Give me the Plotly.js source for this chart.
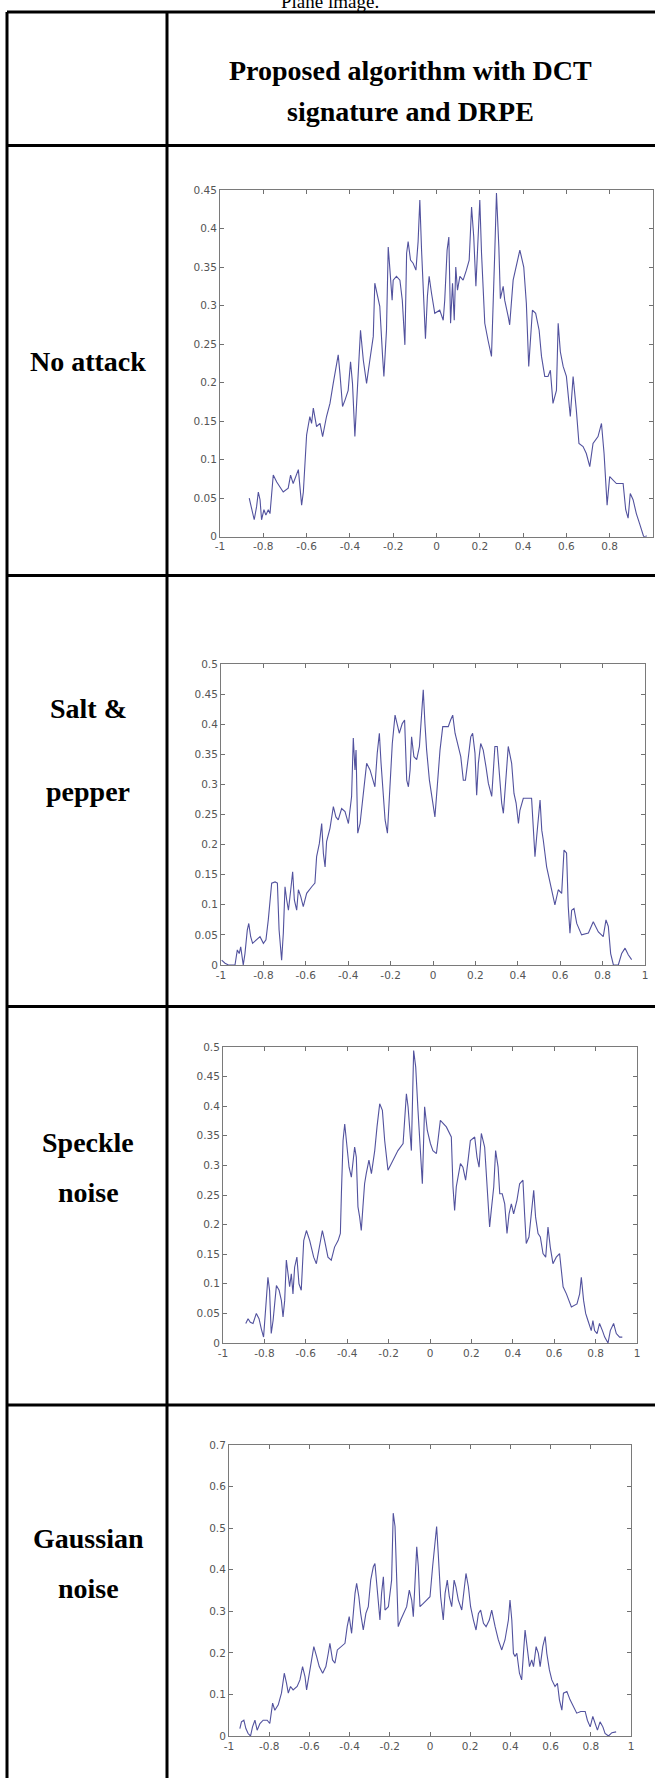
<!DOCTYPE html>
<html>
<head>
<meta charset="utf-8">
<script src="https://cdn.plot.ly/plotly-3.0.1.min.js"></script>
<style>
html,body{margin:0;padding:0;background:#fff;}
#chart{width:655px;height:1778px;}
</style>
</head>
<body>
<div id="chart"></div>
<script>
// ---------- DATA ----------
const rowLabels = [["No attack"], ["Salt &amp;", "pepper"], ["Speckle", "noise"], ["Gaussian", "noise"]];
const headerLines = ["Proposed algorithm with DCT", "signature and DRPE"];
const captionText = "Plane image.";

const xTickVals = [-1, -0.8, -0.6, -0.4, -0.2, 0, 0.2, 0.4, 0.6, 0.8, 1];
const xTickText = ["-1", "-0.8", "-0.6", "-0.4", "-0.2", "0", "0.2", "0.4", "0.6", "0.8", "1"];
const yTickVals45 = [0, 0.05, 0.1, 0.15, 0.2, 0.25, 0.3, 0.35, 0.4, 0.45];
const yTickText45 = ["0", "0.05", "0.1", "0.15", "0.2", "0.25", "0.3", "0.35", "0.4", "0.45"];
const yTickVals50 = [0, 0.05, 0.1, 0.15, 0.2, 0.25, 0.3, 0.35, 0.4, 0.45, 0.5];
const yTickText50 = ["0", "0.05", "0.1", "0.15", "0.2", "0.25", "0.3", "0.35", "0.4", "0.45", "0.5"];
const yTickVals70 = [0, 0.1, 0.2, 0.3, 0.4, 0.5, 0.6, 0.7];
const yTickText70 = ["0", "0.1", "0.2", "0.3", "0.4", "0.5", "0.6", "0.7"];

// [x, y] points
const noAttack = [
[-0.865,0.050],[-0.849,0.032],[-0.842,0.022],[-0.831,0.039],[-0.823,0.058],[-0.815,0.048],[-0.808,0.022],[-0.797,0.035],[-0.788,0.028],[-0.777,0.035],
[-0.769,0.030],[-0.754,0.080],[-0.738,0.071],[-0.708,0.058],[-0.685,0.063],[-0.674,0.080],[-0.662,0.069],[-0.638,0.087],[-0.623,0.041],[-0.615,0.058],
[-0.608,0.093],[-0.600,0.132],[-0.585,0.156],[-0.577,0.147],[-0.569,0.167],[-0.554,0.143],[-0.538,0.147],[-0.526,0.130],[-0.508,0.156],[-0.492,0.173],
[-0.477,0.199],[-0.465,0.216],[-0.454,0.236],[-0.446,0.212],[-0.434,0.169],[-0.423,0.177],[-0.408,0.190],[-0.397,0.227],[-0.388,0.199],[-0.377,0.130],
[-0.369,0.177],[-0.358,0.247],[-0.351,0.268],[-0.338,0.229],[-0.323,0.199],[-0.308,0.229],[-0.292,0.260],[-0.285,0.329],[-0.274,0.316],[-0.262,0.299],
[-0.249,0.234],[-0.243,0.208],[-0.231,0.268],[-0.223,0.376],[-0.215,0.346],[-0.205,0.307],[-0.200,0.333],[-0.185,0.338],[-0.169,0.333],[-0.158,0.307],
[-0.146,0.249],[-0.138,0.368],[-0.131,0.383],[-0.120,0.359],[-0.108,0.355],[-0.095,0.346],[-0.085,0.383],[-0.077,0.437],[-0.069,0.372],[-0.058,0.294],
[-0.051,0.257],[-0.042,0.312],[-0.034,0.338],[-0.023,0.316],[-0.008,0.290],[0.015,0.294],[0.031,0.281],[0.038,0.307],[0.049,0.372],[0.057,0.389],
[0.065,0.277],[0.074,0.329],[0.082,0.281],[0.089,0.350],[0.097,0.320],[0.108,0.338],[0.123,0.333],[0.138,0.346],[0.151,0.359],[0.162,0.428],
[0.172,0.389],[0.182,0.325],[0.192,0.381],[0.200,0.437],[0.208,0.368],[0.215,0.333],[0.223,0.277],[0.238,0.255],[0.254,0.234],[0.269,0.368],
[0.277,0.446],[0.288,0.376],[0.295,0.309],[0.308,0.325],[0.315,0.307],[0.331,0.286],[0.338,0.275],[0.354,0.333],[0.369,0.350],[0.385,0.372],
[0.403,0.350],[0.415,0.303],[0.426,0.221],[0.434,0.264],[0.443,0.294],[0.458,0.290],[0.474,0.268],[0.485,0.234],[0.500,0.208],[0.515,0.208],
[0.526,0.216],[0.538,0.173],[0.554,0.190],[0.562,0.277],[0.572,0.240],[0.585,0.221],[0.600,0.208],[0.618,0.156],[0.631,0.208],[0.646,0.164],
[0.658,0.121],[0.677,0.117],[0.692,0.108],[0.708,0.091],[0.723,0.121],[0.746,0.130],[0.762,0.147],[0.774,0.108],[0.782,0.058],[0.788,0.041],
[0.800,0.078],[0.815,0.074],[0.831,0.069],[0.862,0.069],[0.874,0.035],[0.885,0.024],[0.895,0.056],[0.908,0.048],[0.923,0.030],[0.938,0.017],
[0.957,0.000],[0.972,0.001]
];

const saltPepper = [
[-0.997,0.008],[-0.981,0.003],[-0.965,0.000],[-0.934,0.000],[-0.923,0.025],[-0.914,0.019],[-0.907,0.030],[-0.899,0.008],[-0.895,0.000],[-0.887,0.019],
[-0.876,0.058],[-0.869,0.069],[-0.860,0.047],[-0.851,0.036],[-0.832,0.042],[-0.816,0.047],[-0.800,0.036],[-0.788,0.042],[-0.777,0.075],[-0.761,0.136],
[-0.745,0.138],[-0.734,0.136],[-0.726,0.058],[-0.714,0.008],[-0.706,0.053],[-0.698,0.130],[-0.690,0.108],[-0.682,0.091],[-0.671,0.125],[-0.662,0.155],
[-0.654,0.108],[-0.643,0.091],[-0.635,0.125],[-0.624,0.114],[-0.612,0.097],[-0.596,0.119],[-0.572,0.130],[-0.557,0.136],[-0.549,0.180],[-0.536,0.202],
[-0.525,0.235],[-0.517,0.185],[-0.509,0.163],[-0.502,0.205],[-0.486,0.227],[-0.470,0.263],[-0.458,0.246],[-0.447,0.241],[-0.431,0.260],[-0.415,0.255],
[-0.399,0.235],[-0.384,0.280],[-0.376,0.377],[-0.368,0.324],[-0.363,0.357],[-0.355,0.219],[-0.344,0.235],[-0.329,0.285],[-0.313,0.335],[-0.297,0.324],
[-0.281,0.302],[-0.274,0.296],[-0.263,0.352],[-0.253,0.385],[-0.245,0.335],[-0.237,0.291],[-0.226,0.241],[-0.215,0.219],[-0.206,0.280],[-0.192,0.368],
[-0.179,0.415],[-0.168,0.396],[-0.159,0.385],[-0.145,0.401],[-0.134,0.407],[-0.124,0.307],[-0.116,0.296],[-0.108,0.324],[-0.101,0.379],[-0.090,0.346],
[-0.077,0.341],[-0.064,0.363],[-0.053,0.413],[-0.046,0.457],[-0.038,0.401],[-0.030,0.357],[-0.017,0.307],[-0.006,0.280],[0.009,0.246],[0.020,0.296],
[0.033,0.357],[0.046,0.396],[0.072,0.396],[0.083,0.407],[0.093,0.415],[0.104,0.385],[0.116,0.368],[0.131,0.346],[0.143,0.307],[0.153,0.307],
[0.167,0.346],[0.178,0.379],[0.187,0.385],[0.198,0.352],[0.206,0.282],[0.214,0.335],[0.225,0.368],[0.237,0.357],[0.250,0.329],[0.261,0.302],
[0.277,0.280],[0.292,0.363],[0.303,0.363],[0.316,0.313],[0.324,0.269],[0.332,0.252],[0.343,0.313],[0.355,0.363],[0.371,0.335],[0.382,0.285],
[0.392,0.269],[0.403,0.235],[0.410,0.257],[0.426,0.277],[0.465,0.277],[0.473,0.219],[0.481,0.180],[0.489,0.213],[0.505,0.274],[0.513,0.224],
[0.520,0.208],[0.536,0.163],[0.552,0.136],[0.564,0.113],[0.575,0.100],[0.591,0.125],[0.607,0.119],[0.618,0.191],[0.630,0.186],[0.638,0.097],
[0.646,0.053],[0.654,0.091],[0.665,0.094],[0.678,0.069],[0.701,0.050],[0.733,0.053],[0.756,0.072],[0.780,0.055],[0.803,0.047],[0.816,0.075],
[0.827,0.064],[0.838,0.019],[0.851,0.000],[0.874,0.000],[0.890,0.019],[0.906,0.028],[0.921,0.017],[0.937,0.009]
];

const speckle = [
[-0.890,0.033],[-0.879,0.041],[-0.868,0.035],[-0.855,0.033],[-0.839,0.050],[-0.826,0.041],[-0.815,0.024],[-0.804,0.010],[-0.791,0.072],[-0.783,0.111],
[-0.775,0.089],[-0.767,0.016],[-0.758,0.038],[-0.750,0.072],[-0.742,0.097],[-0.729,0.089],[-0.718,0.072],[-0.710,0.044],[-0.702,0.072],[-0.694,0.140],
[-0.686,0.111],[-0.678,0.095],[-0.670,0.117],[-0.662,0.083],[-0.654,0.128],[-0.643,0.145],[-0.633,0.100],[-0.622,0.089],[-0.610,0.173],[-0.597,0.190],
[-0.581,0.173],[-0.562,0.145],[-0.549,0.134],[-0.536,0.162],[-0.520,0.190],[-0.509,0.173],[-0.493,0.145],[-0.477,0.140],[-0.461,0.162],[-0.444,0.173],
[-0.433,0.185],[-0.428,0.252],[-0.420,0.342],[-0.412,0.370],[-0.401,0.325],[-0.391,0.297],[-0.380,0.280],[-0.372,0.309],[-0.364,0.331],[-0.356,0.314],
[-0.348,0.230],[-0.340,0.213],[-0.332,0.190],[-0.324,0.230],[-0.316,0.269],[-0.308,0.286],[-0.295,0.309],[-0.283,0.286],[-0.267,0.325],[-0.256,0.365],
[-0.243,0.404],[-0.230,0.393],[-0.219,0.342],[-0.203,0.292],[-0.179,0.309],[-0.155,0.325],[-0.130,0.337],[-0.114,0.421],[-0.106,0.399],[-0.098,0.354],
[-0.090,0.325],[-0.079,0.494],[-0.069,0.466],[-0.058,0.393],[-0.047,0.320],[-0.037,0.269],[-0.026,0.399],[-0.013,0.359],[0.002,0.337],[0.014,0.325],
[0.031,0.320],[0.050,0.376],[0.079,0.365],[0.103,0.348],[0.111,0.264],[0.119,0.224],[0.127,0.264],[0.135,0.280],[0.147,0.303],[0.159,0.297],
[0.172,0.275],[0.184,0.309],[0.195,0.342],[0.216,0.348],[0.227,0.314],[0.237,0.297],[0.248,0.354],[0.264,0.331],[0.280,0.241],[0.288,0.196],
[0.296,0.224],[0.308,0.264],[0.317,0.325],[0.329,0.297],[0.337,0.252],[0.349,0.252],[0.361,0.235],[0.372,0.185],[0.382,0.218],[0.393,0.235],
[0.404,0.218],[0.420,0.241],[0.433,0.269],[0.449,0.275],[0.457,0.218],[0.465,0.168],[0.478,0.179],[0.490,0.218],[0.501,0.258],[0.510,0.213],
[0.522,0.185],[0.533,0.179],[0.546,0.151],[0.559,0.145],[0.570,0.196],[0.581,0.162],[0.594,0.134],[0.610,0.145],[0.626,0.151],[0.643,0.095],
[0.659,0.083],[0.683,0.061],[0.710,0.066],[0.723,0.083],[0.731,0.111],[0.742,0.072],[0.752,0.050],[0.763,0.038],[0.779,0.021],[0.787,0.038],
[0.795,0.021],[0.807,0.016],[0.819,0.033],[0.833,0.021],[0.844,0.010],[0.860,0.000],[0.871,0.021],[0.887,0.033],[0.900,0.016],[0.916,0.010],
[0.929,0.010]
];

const gaussian = [
[-0.946,0.018],[-0.938,0.034],[-0.926,0.038],[-0.916,0.018],[-0.905,0.006],[-0.893,0.000],[-0.883,0.022],[-0.871,0.038],[-0.860,0.014],[-0.846,0.030],
[-0.830,0.038],[-0.810,0.038],[-0.797,0.030],[-0.783,0.079],[-0.772,0.062],[-0.755,0.075],[-0.739,0.103],[-0.725,0.151],[-0.714,0.127],[-0.705,0.103],
[-0.694,0.119],[-0.681,0.111],[-0.661,0.119],[-0.647,0.135],[-0.634,0.167],[-0.622,0.143],[-0.614,0.111],[-0.601,0.151],[-0.589,0.191],[-0.578,0.215],
[-0.564,0.191],[-0.551,0.167],[-0.534,0.151],[-0.518,0.167],[-0.506,0.199],[-0.498,0.223],[-0.485,0.183],[-0.473,0.175],[-0.461,0.207],[-0.440,0.215],
[-0.423,0.223],[-0.412,0.263],[-0.402,0.287],[-0.390,0.247],[-0.382,0.295],[-0.373,0.343],[-0.365,0.367],[-0.354,0.335],[-0.345,0.295],[-0.332,0.255],
[-0.319,0.295],[-0.307,0.311],[-0.295,0.375],[-0.282,0.407],[-0.274,0.415],[-0.266,0.375],[-0.257,0.327],[-0.249,0.279],[-0.241,0.343],[-0.232,0.383],
[-0.224,0.303],[-0.207,0.311],[-0.191,0.375],[-0.183,0.536],[-0.174,0.504],[-0.166,0.359],[-0.158,0.263],[-0.146,0.279],[-0.133,0.295],[-0.116,0.311],
[-0.103,0.351],[-0.091,0.327],[-0.083,0.287],[-0.075,0.375],[-0.066,0.455],[-0.058,0.407],[-0.050,0.311],[-0.033,0.319],[-0.017,0.327],[0.000,0.335],
[0.013,0.407],[0.025,0.471],[0.033,0.504],[0.041,0.439],[0.053,0.335],[0.066,0.279],[0.075,0.343],[0.086,0.375],[0.096,0.335],[0.108,0.311],
[0.120,0.375],[0.129,0.359],[0.141,0.327],[0.158,0.303],[0.169,0.359],[0.179,0.391],[0.191,0.359],[0.202,0.311],[0.216,0.279],[0.229,0.255],
[0.241,0.295],[0.252,0.303],[0.266,0.271],[0.279,0.263],[0.295,0.279],[0.307,0.303],[0.324,0.263],[0.340,0.231],[0.357,0.207],[0.373,0.231],
[0.390,0.279],[0.398,0.327],[0.407,0.279],[0.415,0.199],[0.423,0.191],[0.432,0.199],[0.445,0.151],[0.456,0.135],[0.465,0.199],[0.473,0.255],
[0.481,0.223],[0.495,0.167],[0.506,0.183],[0.515,0.167],[0.528,0.215],[0.539,0.199],[0.548,0.167],[0.561,0.215],[0.573,0.239],[0.581,0.199],
[0.594,0.159],[0.606,0.135],[0.622,0.119],[0.634,0.127],[0.644,0.087],[0.656,0.062],[0.664,0.103],[0.681,0.107],[0.697,0.087],[0.714,0.071],
[0.730,0.055],[0.750,0.059],[0.772,0.059],[0.783,0.038],[0.797,0.022],[0.810,0.047],[0.822,0.030],[0.833,0.014],[0.846,0.034],[0.860,0.022],
[0.871,0.006],[0.888,0.000],[0.905,0.008],[0.926,0.010]
];

// ---------- LAYOUT ----------
const W = 655, H = 1778;
const px = v => v / W;
const py = v => 1 - v / H;

// plot boxes in pixels: [left, right, top, bottom]
const boxes = [
  [220, 653, 190, 536.7],
  [221, 645, 664, 965],
  [223, 637, 1047, 1343],
  [229, 631, 1445, 1736]
];
const series = [noAttack, saltPepper, speckle, gaussian];
const yRanges = [[0, 0.45], [0, 0.5], [0, 0.5], [0, 0.7]];
const yTicks = [[yTickVals45, yTickText45], [yTickVals50, yTickText50], [yTickVals50, yTickText50], [yTickVals70, yTickText70]];

const lineColor = '#52529e';
const traces = [];
const layout = {
  width: W, height: H,
  margin: {l: 0, r: 0, t: 0, b: 0},
  paper_bgcolor: '#ffffff',
  plot_bgcolor: '#ffffff',
  showlegend: false,
  shapes: [],
  annotations: []
};

const tickFont = {family: 'DejaVu Sans, Liberation Sans, Arial, sans-serif', size: 10.5, color: '#555555'};

series.forEach((s, i) => {
  const n = i === 0 ? '' : String(i + 1);
  traces.push({
    x: s.map(p => p[0]),
    y: s.map(p => p[1]),
    xaxis: 'x' + n, yaxis: 'y' + n,
    type: 'scatter', mode: 'lines',
    line: {color: lineColor, width: 1.1},
    hoverinfo: 'skip'
  });
  const b = boxes[i];
  const xt = i === 0 ? xTickVals.slice(0, 10) : xTickVals;
  const xtt = i === 0 ? xTickText.slice(0, 10) : xTickText;
  layout['xaxis' + n] = {
    domain: [px(b[0]), px(b[1])],
    anchor: 'y' + n,
    range: [-1, 1],
    tickmode: 'array', tickvals: xt, ticktext: xtt,
    ticks: 'inside', ticklen: 4, tickwidth: 1, tickcolor: '#707070',
    showline: true, linecolor: '#7a7a7a', linewidth: 1, mirror: 'ticks',
    showgrid: false, zeroline: false,
    tickfont: tickFont, fixedrange: true
  };
  layout['yaxis' + n] = {
    domain: [py(b[3]), py(b[2])],
    anchor: 'x' + n,
    range: yRanges[i],
    tickmode: 'array', tickvals: yTicks[i][0], ticktext: yTicks[i][1],
    ticks: 'inside', ticklen: 4, tickwidth: 1, tickcolor: '#707070',
    showline: true, linecolor: '#7a7a7a', linewidth: 1, mirror: 'ticks',
    showgrid: false, zeroline: false,
    tickfont: tickFont, fixedrange: true
  };
});

// table lines
const lw = 3;
function hline(y) {
  layout.shapes.push({type: 'line', xref: 'paper', yref: 'paper', x0: px(7), x1: px(W + 5), y0: py(y), y1: py(y), line: {color: '#000', width: lw}});
}
function vline(x, y0) {
  layout.shapes.push({type: 'line', xref: 'paper', yref: 'paper', x0: px(x), x1: px(x), y0: py(y0), y1: py(H + 5), line: {color: '#000', width: lw}});
}
[12, 145.5, 575.5, 1006.5, 1405].forEach(hline);
vline(7, 12);
vline(167, 12);

// text
const serif = 'Liberation Serif, Times New Roman, serif';
function label(text, x, y, size, bold) {
  layout.annotations.push({
    text: bold ? '<b>' + text + '</b>' : text,
    xref: 'paper', yref: 'paper', x: px(x), y: py(y),
    xanchor: 'center', yanchor: 'middle', showarrow: false,
    font: {family: serif, size: size, color: '#000'}
  });
}
label(captionText, 330, 1.5, 19, false);
label(headerLines[0], 410, 70, 28, true);
label(headerLines[1], 410, 111, 28, true);
const labelCenters = [[361], [709, 791], [1142, 1192], [1538, 1588]];
rowLabels.forEach((lines, i) => {
  lines.forEach((t, j) => label(t, 88, labelCenters[i][j], 28, true));
});

Plotly.newPlot('chart', traces, layout, {displayModeBar: false, staticPlot: true});
</script>
</body>
</html>
